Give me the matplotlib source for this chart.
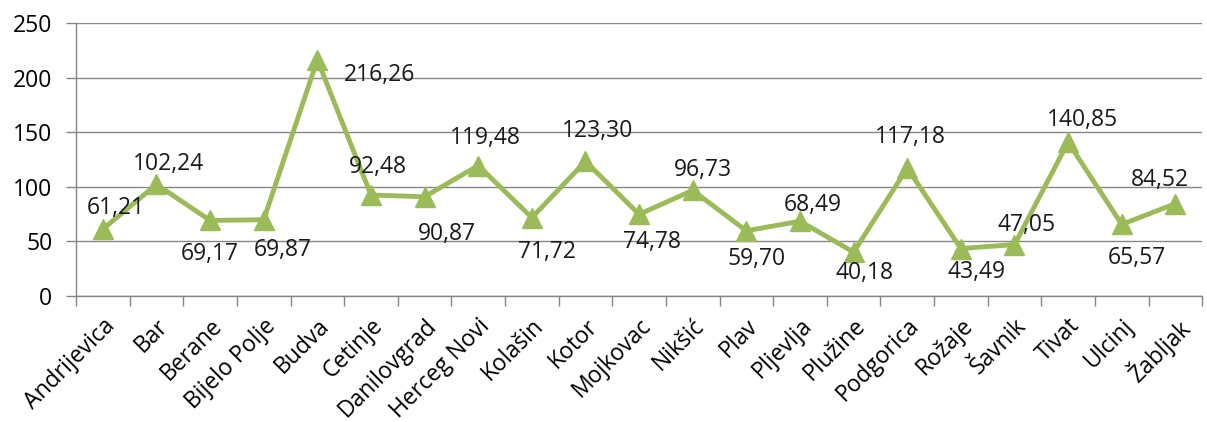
import matplotlib.pyplot as plt
from matplotlib.ticker import MultipleLocator, FixedLocator

plt.rcParams['font.family'] = ['Open Sans', 'DejaVu Sans']

# data
cities = ['Andrijevica', 'Bar', 'Berane', 'Bijelo Polje', 'Budva', 'Cetinje',
          'Danilovgrad', 'Herceg Novi', 'Kolašin', 'Kotor', 'Mojkovac', 'Nikšić',
          'Plav', 'Pljevlja', 'Plužine', 'Podgorica', 'Rožaje', 'Šavnik',
          'Tivat', 'Ulcinj', 'Žabljak']
values = [61.21, 102.24, 69.17, 69.87, 216.26, 92.48, 90.87, 119.48, 71.72,
          123.30, 74.78, 96.73, 59.70, 68.49, 40.18, 117.18, 43.49, 47.05,
          140.85, 65.57, 84.52]
# label offsets (points) relative to each marker
label_dx = [9, 9, 0, 14, 45, 5, 16, 5, 11, 9, 9, 7, 7, 9, 8, 2, 11, 9, 10, 11, -11]
label_dy = [15, 15, -24, -22, -11, 20, -27, 20, -25, 22, -20, 15, -20, 12, -15, 22, -17, 14, 16, -24, 17]

GREEN = '#9BBB59'
GRAY = '#868686'
FS = 16.5

fig = plt.figure(figsize=(12.07, 4.22), dpi=100)
ax = fig.add_axes([0.063, 0.2986, 0.933, 0.6469])

x = list(range(len(cities)))
ax.plot(x, values, color=GREEN, linewidth=3.5, marker='^', markersize=14.5,
        markerfacecolor=GREEN, markeredgecolor=GREEN, zorder=3, clip_on=False)

for i, v in enumerate(values):
    ax.annotate(f"{v:.2f}".replace('.', ','), (i, v),
                xytext=(label_dx[i], label_dy[i]), textcoords='offset points',
                ha='center', va='center', fontsize=FS, color='#1a1a1a', zorder=4)

ax.set_xlim(-0.5, len(cities) - 0.5)
ax.set_ylim(0, 250)
ax.yaxis.set_major_locator(MultipleLocator(50))
ax.grid(axis='y', color=GRAY, linewidth=1)
ax.set_axisbelow(True)

ax.set_xticks(x)
ax.set_xticklabels(cities, rotation=45, ha='right', rotation_mode='anchor', fontsize=FS)
ax.xaxis.set_minor_locator(FixedLocator([i - 0.5 for i in range(len(cities) + 1)]))
ax.tick_params(axis='x', which='major', length=0, pad=13)
ax.tick_params(axis='x', which='minor', length=7, color=GRAY, width=1)
ax.tick_params(axis='y', length=7, color=GRAY, width=1, labelsize=FS, pad=10)

for s in ['top', 'right']:
    ax.spines[s].set_visible(False)
for s in ['left', 'bottom']:
    ax.spines[s].set_color(GRAY)
    ax.spines[s].set_linewidth(1)

fig.savefig('out.png', dpi=100)
